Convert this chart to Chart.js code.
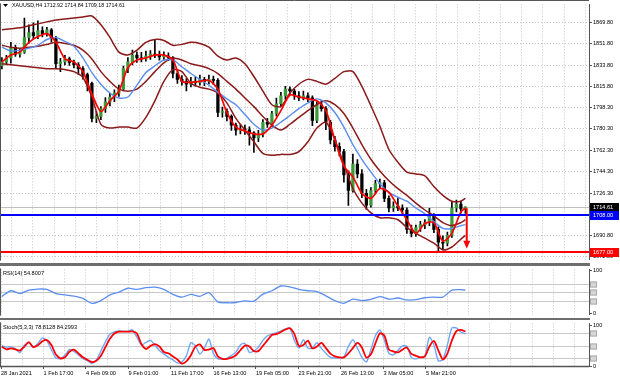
<!DOCTYPE html>
<html>
<head>
<meta charset="utf-8">
<title>XAUUSD H4</title>
<script src="https://cdn.jsdelivr.net/npm/chart.js@4.4.1/dist/chart.umd.min.js"></script>
<style>
  html, body { margin: 0; padding: 0; background: #fff; }
  #wrap { position: relative; width: 620px; height: 382px; overflow: hidden; background: #fff; }
  #wrap canvas { position: absolute; left: 0; }
  .sep { position: absolute; left: 0; width: 590px; background: #6e6e6e; z-index: 2; }
</style>
</head>
<body>
<div id="wrap">
  <canvas id="main-chart" width="620" height="264" style="top:0"></canvas>
  <canvas id="rsi-chart" width="620" height="54" style="top:265px"></canvas>
  <canvas id="stoch-chart" width="620" height="63" style="top:319px"></canvas>
  <div class="sep" style="top:263px;height:3px"></div>
  <div class="sep" style="top:318px;height:2px"></div>
</div>
<script>
'use strict';

/* ── Data ── */
const timeLabels = ['28 Jan 2021', '1 Feb 17:00', '4 Feb 09:00', '9 Feb 01:00', '11 Feb 17:00',
  '16 Feb 13:00', '19 Feb 05:00', '23 Feb 21:00', '26 Feb 13:00', '3 Mar 05:00', '5 Mar 21:00'];

const priceTicks = [1869.80, 1851.80, 1833.80, 1815.80, 1798.30, 1780.30, 1762.30, 1744.30, 1726.30, 1690.80, 1672.80];

const candleOpen = [
  1833.0, 1836.5, 1839.8, 1848.8, 1843.0, 1844.7, 1857.0, 1861.1, 1858.6, 1862.7,
  1860.2, 1863.5, 1856.1, 1834.9, 1836.5, 1839.0, 1836.0, 1834.0, 1830.8, 1825.9,
  1818.5, 1789.0, 1790.7, 1797.2, 1803.0, 1807.0, 1810.3, 1813.6, 1830.8, 1836.5,
  1842.2, 1839.8, 1839.0, 1841.4, 1843.0, 1842.2, 1840.6, 1841.4, 1839.8, 1826.7,
  1821.8, 1820.1, 1817.7, 1820.1, 1819.3, 1821.8, 1820.1, 1821.8, 1821.0, 1794.0,
  1795.0, 1790.7, 1783.3, 1779.2, 1780.0, 1779.5, 1776.8, 1772.7, 1775.9, 1785.8,
  1784.1, 1793.1, 1801.3, 1807.9, 1813.6, 1812.0, 1807.9, 1806.2, 1807.9, 1806.2,
  1787.4, 1800.5, 1797.2, 1785.8, 1771.0, 1765.3, 1761.2, 1741.6, 1728.5, 1750.6,
  1742.4, 1726.0, 1716.2, 1728.5, 1734.2, 1735.0, 1721.9, 1713.8, 1715.4, 1713.8,
  1712.1, 1695.8, 1692.5, 1697.4, 1699.8, 1701.5, 1707.2, 1695.8, 1685.1, 1684.3,
  1690.8, 1713.8, 1717.0, 1712.92];
const candleHigh = [
  1840.0, 1842.0, 1852.9, 1850.5, 1847.5, 1873.3, 1867.6, 1869.2, 1870.9, 1866.0,
  1865.5, 1864.5, 1858.0, 1839.5, 1842.0, 1840.5, 1838.0, 1836.0, 1832.5, 1827.0,
  1819.5, 1795.0, 1799.0, 1806.5, 1810.0, 1813.0, 1817.0, 1833.0, 1840.0, 1846.5,
  1845.0, 1844.5, 1845.5, 1846.0, 1855.5, 1845.5, 1845.0, 1844.0, 1841.0, 1829.0,
  1825.0, 1822.5, 1823.5, 1824.0, 1825.5, 1823.5, 1825.5, 1824.5, 1822.5, 1798.5,
  1797.0, 1792.0, 1785.0, 1784.0, 1783.5, 1782.0, 1778.0, 1779.0, 1788.0, 1789.0,
  1795.0, 1806.0, 1811.0, 1816.0, 1815.5, 1813.5, 1811.5, 1812.0, 1810.5, 1808.0,
  1803.0, 1804.0, 1799.0, 1787.5, 1774.0, 1768.5, 1763.0, 1745.0, 1759.0, 1754.5,
  1746.0, 1729.5, 1731.0, 1737.0, 1738.0, 1737.0, 1724.0, 1719.0, 1722.0, 1716.5,
  1714.0, 1699.5, 1699.5, 1702.5, 1704.0, 1713.5, 1709.0, 1698.0, 1690.5, 1693.5,
  1718.5, 1720.5, 1719.5, 1714.84];
const candleLow = [
  1830.5, 1834.0, 1835.5, 1841.0, 1840.5, 1843.5, 1852.0, 1855.5, 1856.0, 1857.5,
  1858.0, 1853.0, 1831.0, 1828.3, 1834.0, 1833.5, 1831.5, 1826.0, 1822.0, 1812.0,
  1786.0, 1785.5, 1788.0, 1794.0, 1799.5, 1803.0, 1807.5, 1812.0, 1827.5, 1834.0,
  1836.0, 1836.5, 1837.0, 1838.5, 1840.0, 1838.0, 1838.0, 1837.5, 1823.0, 1818.5,
  1817.0, 1812.0, 1815.5, 1816.0, 1817.0, 1816.5, 1818.0, 1817.5, 1790.5, 1790.0,
  1787.0, 1779.0, 1775.0, 1776.0, 1775.5, 1766.5, 1760.5, 1769.5, 1773.5, 1781.5,
  1782.0, 1791.0, 1799.5, 1805.0, 1808.5, 1805.0, 1804.0, 1804.5, 1803.0, 1783.0,
  1785.5, 1795.0, 1779.5, 1767.5, 1761.5, 1757.5, 1735.5, 1716.0, 1727.0, 1739.0,
  1722.5, 1712.5, 1714.5, 1725.5, 1730.5, 1719.0, 1710.5, 1711.0, 1711.5, 1709.0,
  1692.5, 1689.5, 1690.0, 1694.0, 1696.5, 1699.0, 1693.0, 1678.0, 1678.5, 1682.0,
  1689.0, 1710.5, 1709.5, 1709.18];
const candleClose = [
  1836.5, 1839.8, 1848.8, 1843.0, 1844.7, 1857.0, 1861.1, 1858.6, 1862.7, 1860.2,
  1863.5, 1856.1, 1834.9, 1836.5, 1839.0, 1836.0, 1834.0, 1830.8, 1825.9, 1818.5,
  1789.0, 1790.7, 1797.2, 1803.0, 1807.0, 1810.3, 1813.6, 1830.8, 1836.5, 1842.2,
  1839.8, 1839.0, 1841.4, 1843.0, 1842.2, 1840.6, 1841.4, 1839.8, 1826.7, 1821.8,
  1820.1, 1817.7, 1820.1, 1819.3, 1821.8, 1820.1, 1821.8, 1821.0, 1794.0, 1795.0,
  1790.7, 1783.3, 1779.2, 1780.0, 1779.5, 1776.8, 1772.7, 1775.9, 1785.8, 1784.1,
  1793.1, 1801.3, 1807.9, 1813.6, 1812.0, 1807.9, 1806.2, 1807.9, 1806.2, 1787.4,
  1800.5, 1797.2, 1785.8, 1771.0, 1765.3, 1761.2, 1741.6, 1728.5, 1750.6, 1742.4,
  1726.0, 1716.2, 1728.5, 1734.2, 1735.0, 1721.9, 1713.8, 1715.4, 1713.8, 1712.1,
  1695.8, 1692.5, 1697.4, 1699.8, 1701.5, 1707.2, 1695.8, 1685.1, 1684.3, 1690.8,
  1713.8, 1717.0, 1712.9, 1714.61];

// indicator lines, one value every second candle (last one on the last candle)
const bandUpper = [
  1863.5, 1864.3, 1865.1, 1866.8, 1868.4, 1870.1, 1871.7, 1872.5, 1873.3, 1874.1,
  1875.0, 1867.6, 1857.0, 1844.7, 1842.2, 1846.3, 1852.9, 1855.3, 1854.5, 1850.4,
  1851.2, 1852.9, 1852.0, 1848.8, 1841.4, 1838.1, 1839.8, 1834.9, 1824.2, 1811.9,
  1800.5, 1798.9, 1810.3, 1817.7, 1821.8, 1820.1, 1817.7, 1822.6, 1828.3, 1828.3,
  1816.0, 1799.7, 1782.5, 1762.9, 1752.2, 1744.0, 1742.4, 1740.8, 1731.8, 1724.4,
  1719.5, 1719.5, 1721.9];
const bandMiddle = [
  1850.4, 1848.8, 1848.0, 1848.8, 1849.6, 1851.2, 1852.9, 1852.0, 1850.4, 1846.3,
  1839.0, 1828.3, 1820.1, 1813.6, 1811.9, 1813.6, 1820.1, 1828.3, 1835.7, 1839.8,
  1838.1, 1834.9, 1833.2, 1830.8, 1826.7, 1820.1, 1813.6, 1806.2, 1798.9, 1790.7,
  1783.3, 1779.2, 1784.1, 1789.9, 1795.6, 1800.5, 1803.8, 1800.5, 1793.1, 1780.9,
  1767.0, 1754.7, 1744.9, 1736.7, 1730.1, 1724.4, 1717.9, 1712.1, 1707.2, 1701.5,
  1699.0, 1701.5, 1703.9];
const bandLower = [
  1834.9, 1834.1, 1833.2, 1832.4, 1831.6, 1830.8, 1830.8, 1830.0, 1828.3, 1823.4,
  1807.0, 1784.1, 1780.9, 1781.7, 1781.7, 1780.9, 1789.9, 1803.8, 1820.1, 1830.0,
  1828.3, 1818.5, 1815.2, 1813.6, 1810.3, 1802.1, 1789.0, 1779.2, 1769.4, 1759.6,
  1758.0, 1758.8, 1758.8, 1761.2, 1769.4, 1780.9, 1785.8, 1771.0, 1750.6, 1730.1,
  1717.9, 1709.7, 1705.6, 1705.6, 1703.9, 1697.4, 1692.5, 1688.4, 1684.3, 1678.6,
  1681.0, 1687.6, 1690.8];
const maBlue = [
  1848.8, 1845.5, 1846.3, 1848.0, 1850.4, 1855.3, 1857.0, 1853.7, 1849.6, 1839.8,
  1827.5, 1817.7, 1810.3, 1806.2, 1807.0, 1816.9, 1827.5, 1833.2, 1838.1, 1838.1,
  1832.4, 1826.7, 1821.8, 1816.9, 1811.1, 1805.4, 1800.5, 1792.3, 1784.1, 1779.2,
  1780.9, 1785.8, 1791.5, 1797.2, 1802.1, 1805.4, 1802.1, 1794.0, 1781.7, 1767.0,
  1754.7, 1744.0, 1734.2, 1726.9, 1722.8, 1719.5, 1713.8, 1708.9, 1702.3, 1696.6,
  1696.6, 1699.0, 1699.8];
const maRed = [
  1836.5, 1842.2, 1844.7, 1852.9, 1857.8, 1860.2, 1852.9, 1839.0, 1836.5, 1828.3,
  1809.5, 1794.8, 1803.8, 1811.9, 1831.6, 1838.1, 1839.8, 1842.2, 1842.2, 1838.1,
  1820.1, 1819.3, 1820.1, 1821.0, 1813.6, 1794.0, 1781.7, 1778.4, 1776.0, 1776.0,
  1783.3, 1795.6, 1808.7, 1807.0, 1805.4, 1803.8, 1795.6, 1771.0, 1748.9, 1739.9,
  1726.0, 1721.9, 1730.1, 1726.9, 1715.4, 1703.9, 1692.5, 1700.7, 1701.5, 1685.9,
  1692.5, 1710.5, 1713.8];
const rsiValues = [
  40.4, 53.4, 46.9, 54.7, 57.2, 56.6, 46.9, 43.7, 41.1, 35.9,
  24.3, 30.7, 43.7, 50.2, 59.2, 56.6, 60.5, 61.8, 56.6, 45.0,
  38.5, 45.0, 40.4, 48.9, 27.5, 25.6, 26.2, 30.1, 29.5, 45.6,
  53.4, 64.4, 62.5, 56.6, 53.4, 51.5, 41.7, 30.7, 24.3, 34.0,
  30.7, 33.4, 39.8, 34.0, 36.6, 32.1, 32.7, 37.2, 38.5, 38.5,
  54.7, 55.9, 54.8];

// stochastic, one value per candle
const stochMain = [
  50.0, 46.2, 47.0, 42.4, 32.6, 50.8, 56.8, 46.2, 55.3, 69.0,
  61.4, 40.2, 19.7, 18.2, 26.5, 40.2, 35.6, 27.3, 18.2, 12.8,
  6.1, 15.2, 36.4, 59.1, 78.0, 83.3, 85.6, 84.8, 84.8, 88.6,
  70.5, 51.5, 57.6, 62.9, 51.5, 37.9, 29.5, 21.2, 15.2, 7.6,
  9.8, 25.0, 56.8, 49.2, 29.5, 43.9, 65.9, 30.3, 17.4, 17.4,
  18.9, 25.8, 34.1, 51.5, 55.3, 33.3, 37.1, 46.2, 62.9, 74.2,
  78.0, 81.8, 85.6, 90.9, 91.7, 62.9, 43.9, 64.4, 43.9, 43.9,
  56.8, 43.1, 31.1, 21.2, 19.7, 19.7, 22.0, 47.7, 64.4, 43.9,
  21.2, 9.8, 40.2, 74.2, 88.6, 62.9, 31.1, 27.3, 37.9, 49.2,
  47.7, 20.5, 17.4, 21.2, 25.0, 70.5, 51.5, 12.8, 15.9, 51.5,
  93.2, 93.2, 83.3, 78.8];
const stochSignal = [
  47.0, 40.9, 43.1, 40.9, 37.9, 47.7, 58.3, 46.2, 50.8, 60.6,
  63.6, 51.5, 28.0, 18.9, 21.2, 34.8, 40.2, 31.1, 21.2, 15.2,
  9.8, 12.8, 25.0, 46.2, 66.7, 79.6, 84.1, 84.1, 84.1, 84.8,
  79.6, 53.8, 41.7, 49.2, 53.8, 47.7, 34.1, 31.1, 23.5, 15.9,
  6.1, 11.4, 26.5, 47.7, 53.0, 39.4, 40.2, 43.9, 23.5, 17.4,
  17.4, 20.5, 26.5, 38.6, 50.0, 47.7, 36.4, 36.4, 49.2, 62.9,
  75.8, 78.0, 83.3, 89.4, 92.4, 78.0, 49.2, 51.5, 62.1, 43.1,
  47.7, 56.8, 43.9, 30.3, 23.5, 21.2, 21.2, 31.1, 43.9, 56.8,
  45.4, 20.5, 28.8, 55.3, 80.3, 74.2, 40.2, 35.6, 33.3, 40.2,
  45.4, 29.5, 25.0, 21.2, 23.5, 47.7, 61.4, 37.9, 15.9, 30.3,
  62.9, 85.6, 88.6, 84.3];

const lastPrice = 1714.61;
const blueLevel = 1708.00;
const redLevel  = 1677.00;
const arrowAt = 103.3, arrowFrom = 1713.5, arrowTo = 1679.5;
const rsiLevels = [70, 50, 30];
const stochLevels = [80, 50, 20];

/* ── Look ── */
const FONT_FAMILY = '"Liberation Sans", Arial, sans-serif';
const FONT = { family: FONT_FAMILY, size: 5.6 };
const GRID = '#c4c4c4';
const AXIS = '#555';
const BAND = '#8b1a1a';
const MA_BLUE = '#5b8ef0';
const BULL = '#3a9b3a';

const X_MIN = -0.2, X_MAX = 130.47, GRID_STEP = 4.7222;

function timeAxis(withLabels) {
  return {
    type: 'linear', min: X_MIN, max: X_MAX, offset: false,
    afterBuildTicks(scale) {
      const ticks = [];
      for (let i = 0; X_MIN + i * GRID_STEP <= X_MAX; i++) ticks.push({ value: X_MIN + i * GRID_STEP });
      scale.ticks = ticks;
    },
    afterFit(scale) { scale.height = withLabels ? 16 : 0; },
    grid: {
      color: GRID, lineWidth: 1, drawTicks: withLabels, tickLength: 3,
      tickColor: c => (c.index % 2 === 0 && c.index / 2 < timeLabels.length) ? AXIS : 'rgba(0,0,0,0)'
    },
    border: { display: false, dash: [1, 2] },
    ticks: {
      display: withLabels, autoSkip: false, maxRotation: 0, minRotation: 0,
      align: 'start', padding: 1, color: '#000', font: FONT,
      callback: (v, i) => (i % 2 === 0 && timeLabels[i / 2]) ? timeLabels[i / 2] : ''
    }
  };
}

function valueAxis(min, max, tickValues, withGrid, fmt) {
  return {
    position: 'right', min, max,
    afterBuildTicks(scale) { scale.ticks = tickValues.map(v => ({ value: v })); },
    afterFit(scale) { scale.width = 31; },
    grid: { display: true, drawOnChartArea: withGrid, color: GRID, tickLength: 3, tickColor: AXIS },
    border: { display: true, color: AXIS, dash: [1, 2] },
    ticks: { color: '#000', font: FONT, padding: 1, callback: fmt }
  };
}

const baseOptions = {
  responsive: false, animation: false, devicePixelRatio: 1, events: [],
  plugins: { legend: { display: false }, tooltip: { enabled: false } }
};

function line(data, color, width, order) {
  return { type: 'line', data, borderColor: color, borderWidth: width, pointRadius: 0,
           tension: 0.25, fill: false, order };
}

const lastIdx = candleClose.length - 1;
const everyOther = arr => arr.map((v, i) => ({ x: Math.min(i * 2, lastIdx), y: v }));
const everyCandle = arr => arr.map((v, i) => ({ x: i, y: v }));

function levelBox(ctx, area, y) {
  ctx.fillStyle = '#d6d6d6';
  ctx.fillRect(area.right + 1, y - 3, 7, 6);
  ctx.strokeStyle = '#aaa';
  ctx.lineWidth = 1;
  ctx.strokeRect(area.right + 1.5, y - 2.5, 6, 5);
}

function leftEdge(ctx, area) {
  ctx.strokeStyle = AXIS;
  ctx.lineWidth = 1;
  ctx.beginPath();
  ctx.moveTo(0.5, area.top - 1);
  ctx.lineTo(0.5, area.bottom + 1);
  ctx.stroke();
}

/* ── Main price chart ── */
const mainOverlay = {
  id: 'mainOverlay',
  beforeDatasetsDraw(chart) {
    const { ctx, chartArea: a, scales: { y } } = chart;
    const py = Math.round(y.getPixelForValue(lastPrice)) + 0.5;
    ctx.save();
    ctx.strokeStyle = '#c0c0c0';
    ctx.lineWidth = 1;
    ctx.beginPath(); ctx.moveTo(a.left, py); ctx.lineTo(a.right, py); ctx.stroke();
    ctx.restore();
  },
  afterDatasetsDraw(chart) {
    const { ctx, chartArea: a, scales: { x, y } } = chart;
    ctx.save();
    [[blueLevel, '#0000ff'], [redLevel, '#ff0000']].forEach(([v, c]) => {
      const py = Math.round(y.getPixelForValue(v));
      ctx.strokeStyle = c; ctx.lineWidth = 2;
      ctx.beginPath(); ctx.moveTo(a.left - 1, py); ctx.lineTo(a.right, py); ctx.stroke();
    });
    // forecast arrow
    const ax = x.getPixelForValue(arrowAt);
    const y1 = y.getPixelForValue(arrowFrom), y2 = y.getPixelForValue(arrowTo);
    ctx.strokeStyle = '#ff0000'; ctx.fillStyle = '#ff0000'; ctx.lineWidth = 2;
    ctx.beginPath(); ctx.moveTo(ax, y1); ctx.lineTo(ax, y2 - 6); ctx.stroke();
    ctx.beginPath(); ctx.moveTo(ax - 3.5, y2 - 8); ctx.lineTo(ax + 3.5, y2 - 8); ctx.lineTo(ax, y2); ctx.closePath(); ctx.fill();
    ctx.restore();
  },
  afterDraw(chart) {
    const { ctx, chartArea: a, scales: { y } } = chart;
    ctx.save();
    ctx.font = `5.6px ${FONT_FAMILY}`;
    ctx.textBaseline = 'middle';
    ctx.textAlign = 'left';
    [[lastPrice, '#000'], [blueLevel, '#0000ff'], [redLevel, '#ff0000']].forEach(([v, bg]) => {
      const py = Math.round(y.getPixelForValue(v));
      ctx.fillStyle = bg;
      ctx.fillRect(a.right + 1, py - 4, 29, 9);
      ctx.fillStyle = '#fff';
      ctx.fillText(v.toFixed(2), a.right + 4, py + 0.5);
    });
    // frame
    leftEdge(ctx, a);
    ctx.beginPath(); ctx.moveTo(0, 0.5); ctx.lineTo(a.right, 0.5); ctx.stroke();
    // header
    ctx.fillStyle = '#000';
    ctx.beginPath(); ctx.moveTo(3, 4); ctx.lineTo(8, 4); ctx.lineTo(5.5, 7); ctx.closePath(); ctx.fill();
    ctx.font = `5.3px ${FONT_FAMILY}`;
    ctx.fillText('XAUUSD,H4 1712.92 1714.84 1709.18 1714.61', 12, 6);
    ctx.restore();
  }
};

new Chart(document.getElementById('main-chart'), {
  type: 'bar',
  data: {
    datasets: [
      line(everyOther(maRed), '#ff0000', 1.7, 1),
      line(everyOther(maBlue), MA_BLUE, 1.4, 2),
      line(everyOther(bandUpper), BAND, 1.5, 3),
      line(everyOther(bandMiddle), BAND, 1.5, 3),
      line(everyOther(bandLower), BAND, 1.5, 3),
      {
        type: 'bar', order: 5, grouped: false, barThickness: 2.6, maxBarThickness: 2.6, minBarLength: 1,
        data: candleClose.map((c, i) => ({ x: i, y: [candleOpen[i], c] })),
        backgroundColor: candleClose.map((c, i) => c >= candleOpen[i] ? BULL : '#000'),
        borderWidth: 0
      },
      {
        type: 'bar', order: 6, grouped: false, barThickness: 1, maxBarThickness: 1,
        data: candleClose.map((c, i) => ({ x: i, y: [candleLow[i], candleHigh[i]] })),
        backgroundColor: '#000', borderWidth: 0
      }
    ]
  },
  options: {
    ...baseOptions,
    layout: { padding: { left: 1, top: 1, right: 0, bottom: 1 } },
    scales: {
      x: timeAxis(false),
      y: valueAxis(1670.4, 1884.8, priceTicks, true, v => v.toFixed(2))
    }
  },
  plugins: [mainOverlay]
});

/* ── Oscillator panels ── */
function oscOverlay(id, title, levels) {
  return {
    id,
    beforeDatasetsDraw(chart) {
      const { ctx, chartArea: a, scales: { y } } = chart;
      ctx.save();
      ctx.strokeStyle = '#c8c8c8';
      ctx.lineWidth = 1;
      levels.forEach(v => {
        const py = Math.round(y.getPixelForValue(v)) + 0.5;
        ctx.beginPath(); ctx.moveTo(a.left, py); ctx.lineTo(a.right, py); ctx.stroke();
      });
      ctx.restore();
    },
    afterDraw(chart) {
      const { ctx, chartArea: a, scales: { y } } = chart;
      ctx.save();
      levels.forEach(v => levelBox(ctx, a, Math.round(y.getPixelForValue(v)) + 0.5));
      leftEdge(ctx, a);
      ctx.fillStyle = '#000';
      ctx.font = `5.6px ${FONT_FAMILY}`;
      ctx.textBaseline = 'middle';
      ctx.textAlign = 'left';
      ctx.fillText(title, 3, a.top + 4);
      if (chart.scales.x.options.ticks.display) {
        ctx.strokeStyle = AXIS;
        ctx.lineWidth = 1.5;
        ctx.beginPath(); ctx.moveTo(0, a.bottom + 0.5); ctx.lineTo(a.right, a.bottom + 0.5); ctx.stroke();
      }
      ctx.restore();
    }
  };
}

new Chart(document.getElementById('rsi-chart'), {
  type: 'line',
  data: { datasets: [line(everyOther(rsiValues), '#5b8ef0', 1.3, 1)] },
  options: {
    ...baseOptions,
    layout: { padding: { left: 1, top: 1, right: 0, bottom: 1 } },
    scales: {
      x: timeAxis(false),
      y: valueAxis(-2, 103, [100, 0], false, v => String(v))
    }
  },
  plugins: [oscOverlay('rsiOverlay', 'RSI(14) 54.8007', rsiLevels)]
});

new Chart(document.getElementById('stoch-chart'), {
  type: 'line',
  data: {
    datasets: [
      line(everyCandle(stochSignal), '#ff0000', 1.8, 1),
      line(everyCandle(stochMain), '#6fa8f7', 1.4, 2)
    ]
  },
  options: {
    ...baseOptions,
    layout: { padding: { left: 1, top: 1, right: 0, bottom: 0 } },
    scales: {
      x: timeAxis(true),
      y: valueAxis(0, 104.5, [100, 0], false, v => String(v))
    }
  },
  plugins: [oscOverlay('stochOverlay', 'Stoch(5,3,3) 78.8128 84.2993', stochLevels)]
});
</script>
</body>
</html>
